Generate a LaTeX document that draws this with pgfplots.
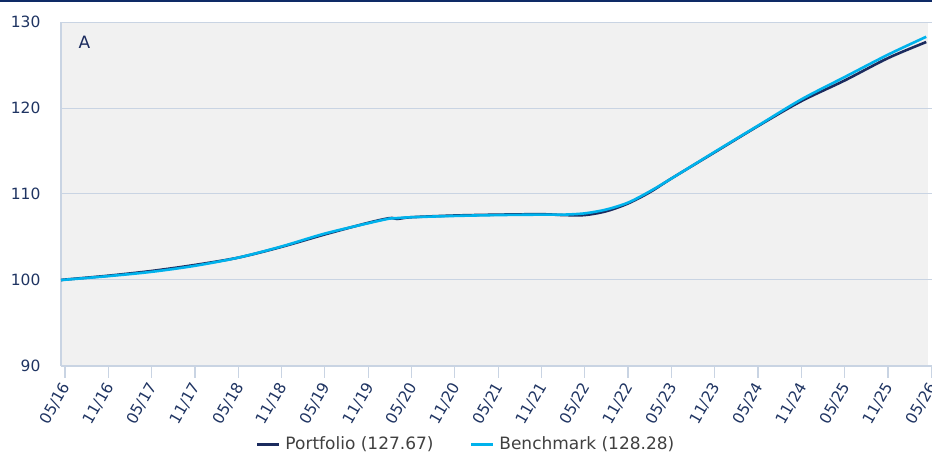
\documentclass[border=0pt]{standalone}
\usepackage{fontspec}
\setmainfont{DejaVu Sans}
\usepackage{pgfplots}
\pgfplotsset{compat=1.18}
\definecolor{navy}{HTML}{1B2B5E}
\definecolor{cyanb}{HTML}{00B2EC}
\definecolor{txt}{HTML}{1F3462}
\definecolor{gridc}{HTML}{C9D4E3}
\definecolor{bgc}{HTML}{F1F1F1}
\definecolor{legc}{HTML}{404040}
\definecolor{topline}{HTML}{0E2A66}

\pgfplotstableread{
m port bench
-0.4 100.00 100.00
0 100.05 100.03
6 100.50 100.45
12 101.05 100.95
18 101.75 101.65
24 102.60 102.60
30 103.85 103.90
36 105.30 105.40
42 106.65 106.60
45 107.20 107.15
46 107.10 107.20
48 107.30 107.30
54 107.50 107.45
60 107.60 107.55
66 107.65 107.60
69 107.55 107.60
72 107.55 107.75
75 108.00 108.20
78 108.90 109.00
81 110.20 110.30
84 111.80 111.80
90 114.85 114.90
96 117.90 117.95
102 120.80 121.00
108 123.20 123.60
114 125.80 126.20
119.3 127.67 128.28
}\datatab

\begin{document}
\begin{tikzpicture}
\begin{axis}[
  at={(0pt,0pt)}, anchor=south west,
  scale only axis, width=871pt, height=344pt,
  set layers,
  xmin=-0.55, xmax=120.1, ymin=90, ymax=130,
  ytick={90,100,110,120,130},
  xtick={0,6,...,120},
  xticklabels={05/16,11/16,05/17,11/17,05/18,11/18,05/19,11/19,05/20,11/20,05/21,11/21,05/22,11/22,05/23,11/23,05/24,11/24,05/25,11/25,05/26},
  axis lines=left,
  axis line style={draw=gridc, line width=1.2pt, -},
  ymajorgrids,
  grid style={draw=gridc, line width=1pt},
  tick align=outside,
  xtick style={draw=gridc, line width=1.2pt},
  ytick style={draw=none},
  major tick length=12pt,
  /pgf/number format/assume math mode=true,
  yticklabel style={text=txt, font=\fontsize{15.5}{18}\selectfont, xshift=-5pt},
  xticklabel style={text=txt, font=\fontsize{15.5}{18}\selectfont, yshift=-6pt, xshift=1.5pt, rotate=60, anchor=east, inner sep=0pt},
  legend columns=2,
  legend style={at={(axis description cs:0.465,-0.227)}, anchor=center,
    draw=none, fill=none, text=legc, font=\fontsize{17}{19}\selectfont,
    /tikz/every even column/.append style={column sep=34pt}},
  legend image code/.code={\draw[line width=3pt] (0pt,0pt) -- (22pt,0pt); \path (25pt,0pt);},
]
\begin{pgfonlayer}{axis background}
\fill[bgc] (rel axis cs:0,0) rectangle (axis cs:119.6,130);
\end{pgfonlayer}
\addplot[navy, line width=2.6pt, smooth] table[x=m, y=port] {\datatab};
\addlegendentry{Portfolio (127.67)}
\addplot[cyanb, line width=2.6pt, smooth] table[x=m, y=bench] {\datatab};
\addlegendentry{Benchmark (128.28)}
\node[anchor=base west, text=navy, font=\fontsize{17}{19}\selectfont] at (rel axis cs:0.0161,0.924) {A};
\end{axis}
\fill[topline] (-61pt,364.3pt) rectangle (871pt,366pt);
\pgfresetboundingbox
\useasboundingbox (-61pt,-86pt) rectangle (871pt,366pt);
\end{tikzpicture}
\end{document}
